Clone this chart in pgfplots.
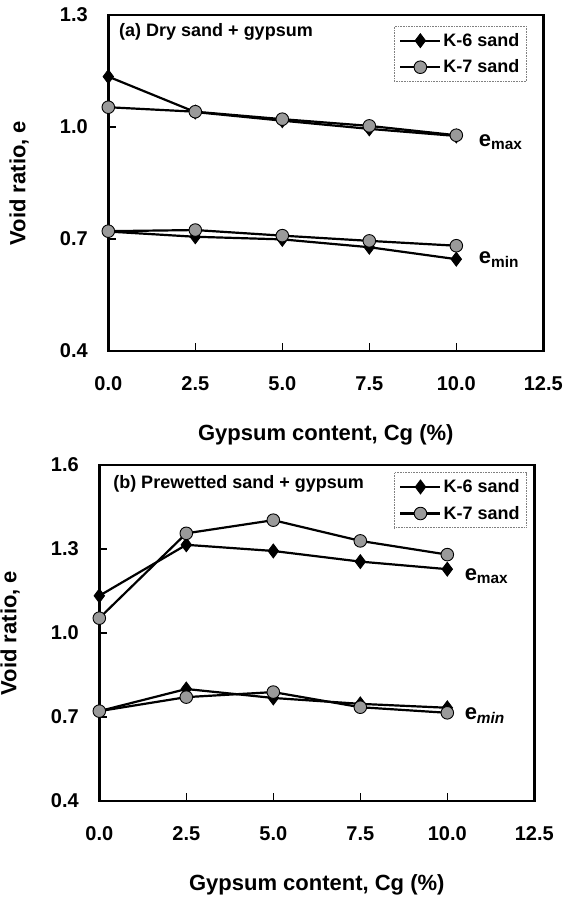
\documentclass[border=0pt]{standalone}
\usepackage{fontspec}
\setmainfont{Liberation Sans}
\usepackage{pgfplots}
\pgfplotsset{compat=1.18}
\definecolor{markgray}{HTML}{9A9A9A}

\pgfplotsset{
  voidaxis/.style={
    scale only axis, width=435pt, height=336pt,
    xmin=0, xmax=12.5, xtick={0,2.5,5,7.5,10,12.5},
    tick align=inside, xtick pos=bottom, ytick pos=left,
    major tick length=8pt, tick style={line width=1.6pt, black},
    axis line style={line width=2.5pt},
    /pgf/number format/assume math mode=true,
    /pgf/number format/fixed, /pgf/number format/fixed zerofill,
    /pgf/number format/precision=1,
    tick label style={font=\fontsize{20}{23}\selectfont\bfseries},
    xticklabel style={yshift=-22pt},
    yticklabel style={xshift=-17pt},
    label style={font=\fontsize{22}{25}\selectfont\bfseries},
    xlabel style={at={(axis description cs:0.5,-0.25)}, anchor=center},
    ylabel style={at={(axis description cs:-0.205,0.5)}, anchor=center},
    xlabel={Gypsum content, Cg (\%)}, ylabel={Void ratio, e},
    legend style={draw=gray, densely dotted, line width=0.6pt, anchor=north east,
      font=\fontsize{18}{21}\selectfont\bfseries, row sep=8pt,
      inner xsep=5pt, inner ysep=5pt},
    legend cell align=left,
    legend image code/.code={\draw[solid, mark repeat=2, mark phase=2, #1]
      plot coordinates {(0pt,0pt) (20pt,0pt) (40pt,0pt)};},
  },
  k6/.style={black, solid, line width=2.2pt, mark=diamond*, mark size=7pt,
    mark options={solid, fill=black, line width=0.8pt}},
  k7/.style={black, solid, line width=2.2pt, mark=*, mark size=6.3pt,
    mark options={solid, fill=markgray, line width=0.9pt}},
}

\begin{document}
\begin{tikzpicture}
\useasboundingbox (0,0) rectangle (566pt,-897pt);

% (a) dry sand
\begin{axis}[voidaxis, at={(108.3pt,-351pt)}, anchor=south west,
  ymin=0.4, ymax=1.3, ytick={0.4,0.7,1.0,1.3},
  legend style={at={(0.962,0.967)}}]
\addplot[k6] coordinates {(0,1.135) (2.5,1.040) (5,1.017) (7.5,0.995) (10,0.976)};
\addlegendentry{K-6 sand}
\addplot[k7] coordinates {(0,1.053) (2.5,1.041) (5,1.021) (7.5,1.003) (10,0.978)};
\addlegendentry{K-7 sand}
\addplot[k6, forget plot] coordinates {(0,0.720) (2.5,0.706) (5,0.699) (7.5,0.678) (10,0.646)};
\addplot[k7, forget plot] coordinates {(0,0.721) (2.5,0.724) (5,0.709) (7.5,0.695) (10,0.682)};
\node[anchor=west, font=\fontsize{18}{21}\selectfont\bfseries]
  at (axis description cs:0.017,0.950) {(a) Dry sand + gypsum};
\node[anchor=west, font=\fontsize{22}{25}\selectfont\bfseries]
  at (axis cs:10.55,0.960) {e\textsubscript{max}};
\node[anchor=west, font=\fontsize{22}{25}\selectfont\bfseries]
  at (axis cs:10.55,0.645) {e\textsubscript{min}};
\end{axis}

% (b) prewetted sand
\begin{axis}[voidaxis, at={(99.3pt,-801pt)}, anchor=south west,
  ymin=0.4, ymax=1.6, ytick={0.4,0.7,1.0,1.3,1.6},
  legend style={at={(0.983,0.978)}}]
\addplot[k6] coordinates {(0,1.133) (2.5,1.315) (5,1.293) (7.5,1.255) (10,1.228)};
\addlegendentry{K-6 sand}
\addplot[k7] coordinates {(0,1.053) (2.5,1.356) (5,1.403) (7.5,1.329) (10,1.280)};
\addlegendentry{K-7 sand}
\addplot[k6, forget plot] coordinates {(0,0.721) (2.5,0.800) (5,0.768) (7.5,0.747) (10,0.733)};
\addplot[k7, forget plot] coordinates {(0,0.721) (2.5,0.771) (5,0.789) (7.5,0.735) (10,0.715)};
\node[anchor=west, font=\fontsize{18}{21}\selectfont\bfseries]
  at (axis description cs:0.024,0.943) {(b) Prewetted sand + gypsum};
\node[anchor=west, font=\fontsize{22}{25}\selectfont\bfseries]
  at (axis cs:10.4,1.204) {e\textsubscript{max}};
\node[anchor=west, font=\fontsize{22}{25}\selectfont\bfseries]
  at (axis cs:10.4,0.705) {e\textsubscript{\itshape min}};
\end{axis}
\end{tikzpicture}
\end{document}
